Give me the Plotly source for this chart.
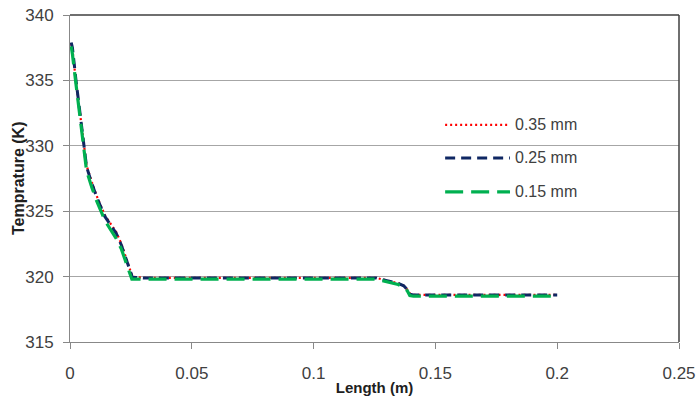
import plotly.graph_objects as go

# Temperature profiles along the channel for three gap sizes
x_035 = [0.0005, 0.0010, 0.0024, 0.0040, 0.0052, 0.0068, 0.0090, 0.0109, 0.0143, 0.0170,
         0.0190, 0.0211, 0.0235, 0.0256, 0.0300, 0.0600, 0.1000, 0.1200, 0.1258, 0.1280,
         0.1320, 0.1347, 0.1370, 0.1385, 0.1395, 0.1410, 0.1600, 0.1800, 0.2000]
t_035 = [337.8, 337.4, 335.0, 332.7, 330.9, 328.5, 327.2, 326.2, 324.7, 323.9,
         323.4, 322.5, 321.2, 320.0, 319.9, 319.9, 319.9, 319.9, 319.9, 319.8,
         319.65, 319.5, 319.3, 319.0, 318.7, 318.6, 318.6, 318.6, 318.6]

x_025 = [0.0005, 0.0010, 0.0024, 0.0040, 0.0052, 0.0068, 0.0090, 0.0109, 0.0143, 0.0170,
         0.0190, 0.0211, 0.0235, 0.0256, 0.0300, 0.0600, 0.1000, 0.1200, 0.1258, 0.1280,
         0.1320, 0.1347, 0.1370, 0.1385, 0.1395, 0.1410, 0.1600, 0.1800, 0.2000]
t_025 = [337.9, 337.5, 335.1, 332.8, 330.8, 328.4, 327.1, 326.1, 324.6, 323.8,
         323.3, 322.4, 321.1, 319.95, 319.9, 319.9, 319.9, 319.9, 319.9, 319.78,
         319.62, 319.48, 319.3, 319.0, 318.65, 318.6, 318.6, 318.6, 318.6]

x_015 = [0.0005, 0.0010, 0.0024, 0.0040, 0.0052, 0.0068, 0.0090, 0.0109, 0.0143, 0.0170,
         0.0190, 0.0211, 0.0235, 0.0254, 0.0300, 0.0600, 0.1000, 0.1200, 0.1258, 0.1280,
         0.1320, 0.1347, 0.1370, 0.1385, 0.1395, 0.1410, 0.1600, 0.1800, 0.2000]
t_015 = [337.6, 337.0, 334.8, 332.3, 330.4, 328.1, 326.8, 325.8, 324.3, 323.5,
         322.9, 322.1, 320.9, 319.8, 319.8, 319.8, 319.8, 319.8, 319.8, 319.7,
         319.55, 319.4, 319.2, 318.9, 318.55, 318.5, 318.5, 318.5, 318.5]

series_names = ["0.35 mm", "0.25 mm", "0.15 mm"]

x_ticks = [0, 0.05, 0.1, 0.15, 0.2, 0.25]
x_tick_text = ["0", "0.05", "0.1", "0.15", "0.2", "0.25"]
y_ticks = [315, 320, 325, 330, 335, 340]

FONT = "Liberation Sans"
styles = [
    dict(color="#FF0000", width=2.2, dash="2px,3px"),
    dict(color="#0F2763", width=3, dash="10px,6px"),
    dict(color="#00B050", width=3.2, dash="18px,8px"),
]

fig = go.Figure()
for xs, ts, name, st in zip([x_035, x_025, x_015], [t_035, t_025, t_015], series_names, styles):
    fig.add_trace(go.Scatter(x=xs, y=ts, mode="lines", name=name, line=st, showlegend=False))

# dark frame along the top and right of the plot area
fig.add_shape(type="line", xref="paper", yref="paper", x0=0, x1=1, y0=1, y1=1,
              line=dict(color="#3F3F3F", width=1.5))
fig.add_shape(type="line", xref="paper", yref="paper", x0=1, x1=1, y0=0, y1=1,
              line=dict(color="#3F3F3F", width=1.5))

# legend keys drawn inside the plot area
legend_rows = [0.664, 0.563, 0.459]
for name, st, ly in zip(series_names, styles, legend_rows):
    fig.add_shape(type="line", xref="paper", yref="paper", x0=0.616, x1=0.7225,
                  y0=ly, y1=ly, line=st)
    fig.add_annotation(x=0.727, y=ly, xref="paper", yref="paper", text=name,
                       showarrow=False, xanchor="left", yanchor="middle",
                       font=dict(family=FONT, size=16, color="#404040"))

# vertical axis title, set close to the tick labels
fig.add_annotation(x=(18 - 70) / 609, y=(342 - 178) / 327, xref="paper", yref="paper",
                   text="<b>Temprature (K)</b>", showarrow=False, textangle=-90,
                   xanchor="center", yanchor="middle",
                   font=dict(family=FONT, size=16, color="#202020"))

fig.update_layout(
    width=699, height=402,
    margin=dict(l=70, r=20, t=15, b=60),
    paper_bgcolor="white", plot_bgcolor="white",
    font=dict(family=FONT, size=16, color="#404040"),
    xaxis=dict(range=[0, 0.25], tickvals=x_ticks, ticktext=x_tick_text, automargin=False,
               showgrid=False, zeroline=False, showline=True, linecolor="#888888",
               linewidth=1, ticks="outside", ticklen=6, tickcolor="#888888",
               ticklabelstandoff=10,
               tickfont=dict(size=17, color="#404040"),
               title=dict(text="<b>Length (m)</b>", font=dict(size=15, color="#202020"),
                          standoff=0)),
    yaxis=dict(range=[315, 340], tickvals=y_ticks, showgrid=True, gridcolor="#A6A6A6",
               automargin=False,
               gridwidth=1, zeroline=False, showline=True, linecolor="#888888",
               linewidth=1, ticks="outside", ticklen=6, tickcolor="#888888",
               ticklabelstandoff=6,
               tickfont=dict(size=17, color="#404040")),
)

fig.write_html("out.html")
